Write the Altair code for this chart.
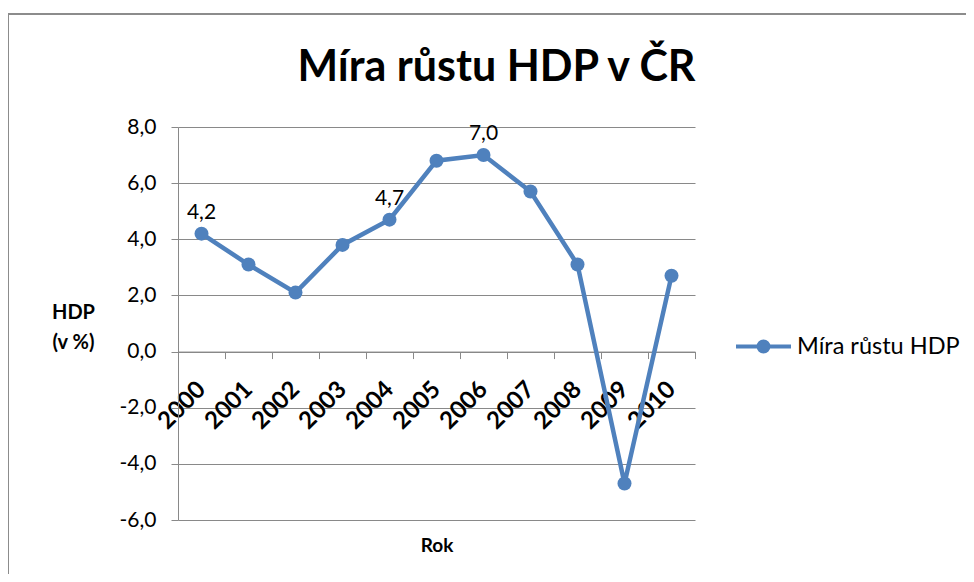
import altair as alt
import pandas as pd

# ---- data ----
years = ["2000", "2001", "2002", "2003", "2004", "2005", "2006", "2007", "2008", "2009", "2010"]
growth = [4.2, 3.1, 2.1, 3.8, 4.7, 6.8, 7.0, 5.7, 3.1, -4.7, 2.7]
labeled_years = ["2000", "2004", "2006"]
series_name = "Míra růstu HDP"
y_ticks = [-6, -4, -2, 0, 2, 4, 6, 8]
y_domain = [-6, 8]
chart_title = "Míra růstu HDP v ČR"
x_title = "Rok"
y_title = ["HDP", "(v %)"]

df = pd.DataFrame({"Rok": years, "HDP": growth, "serie": [series_name] * len(years)})
df["label"] = [f"{v:.1f}".replace(".", ",") if y in labeled_years else "" for y, v in zip(years, growth)]

W, H = 517, 393
FONT = "Lato"
BLUE = "#4F81BD"
GRID = "#898989"
zero_offset = -H * (0 - y_domain[0]) / (y_domain[1] - y_domain[0])

x_enc = alt.X(
    "Rok:O",
    scale=alt.Scale(type="band", paddingInner=0, paddingOuter=0),
    axis=alt.Axis(
        offset=zero_offset,
        labelAngle=-45,
        labelAlign="right",
        labelBaseline="middle",
        labelPadding=27,
        labelFont=FONT,
        labelFontSize=24,
        labelFontWeight="bold",
        labelColor="black",
        labelOverlap=False,
        grid=False,
        domainColor=GRID,
        tickColor=GRID,
        tickSize=7,
        tickBand="extent",
        title=x_title,
        titleFont=FONT,
        titleFontSize=19,
        titleFontWeight="bold",
        titleColor="black",
        titleX=W / 2,
        titleY=200,
        titleAlign="center",
        titleBaseline="alphabetic",
    ),
)
y_enc = alt.Y(
    "HDP:Q",
    scale=alt.Scale(domain=y_domain, nice=False, zero=False),
    axis=alt.Axis(
        values=y_ticks,
        labelExpr="replace(replace(format(datum.value, '.1f'), '.', ','), '\u2212', '-')",
        labelFont=FONT,
        labelFontSize=21,
        labelColor="black",
        labelPadding=15,
        grid=True,
        gridColor=GRID,
        domainColor=GRID,
        tickColor=GRID,
        tickSize=7,
        title=y_title,
        titleFont=FONT,
        titleFontSize=20,
        titleFontWeight="bold",
        titleColor="black",
        titleAngle=0,
        titleAlign="center",
        titleBaseline="alphabetic",
        titleX=-105,
        titleY=191,
        titleLineHeight=30,
    ),
)

base = alt.Chart(df)

line = base.mark_line(strokeWidth=4.5).encode(
    x=x_enc,
    y=y_enc,
    color=alt.Color(
        "serie:N",
        scale=alt.Scale(range=[BLUE]),
        legend=alt.Legend(
            title=None,
            orient="none",
            legendX=556,
            legendY=190,
            padding=0,
            symbolType="M -1 0 L 1 0 M -0.18 0 A 0.18 0.18 0 1 1 0.18 0 A 0.18 0.18 0 1 1 -0.18 0 Z",
            symbolSize=3025,
            symbolStrokeWidth=4,
            symbolFillColor=BLUE,
            symbolStrokeColor=BLUE,
            labelFont=FONT,
            labelFontSize=23.5,
            labelColor="black",
            labelOffset=4,
            labelLimit=400,
        ),
    ),
)

points = base.mark_circle(size=196, opacity=1, color=BLUE).encode(x="Rok:O", y="HDP:Q")

labels = base.mark_text(font=FONT, fontSize=21, color="black", baseline="alphabetic", dy=-15).encode(
    x="Rok:O", y="HDP:Q", text="label:N"
)

frame = alt.Chart(pd.DataFrame({"f": [0]})).mark_rect(
    fill="transparent", stroke="#8C8C8C", strokeWidth=2
).encode(
    x=alt.value(-170), x2=alt.value(900), y=alt.value(-113), y2=alt.value(700)
)

chart = alt.layer(frame, line, points, labels).properties(
    width=W,
    height=H,
    title=alt.TitleParams(
        chart_title,
        font=FONT,
        fontSize=43,
        fontWeight="bold",
        color="black",
        anchor="middle",
        frame="group",
        baseline="alphabetic",
        dx=60,
        offset=-111,
    ),
    autosize=alt.AutoSizeParams(type="none"),
    padding={"left": 170, "top": 119, "right": 958 - 170 - W, "bottom": 566 - 119 - H},
).configure_view(strokeWidth=0)

chart.save("out.html", embed_options={"renderer": "svg", "actions": False})
